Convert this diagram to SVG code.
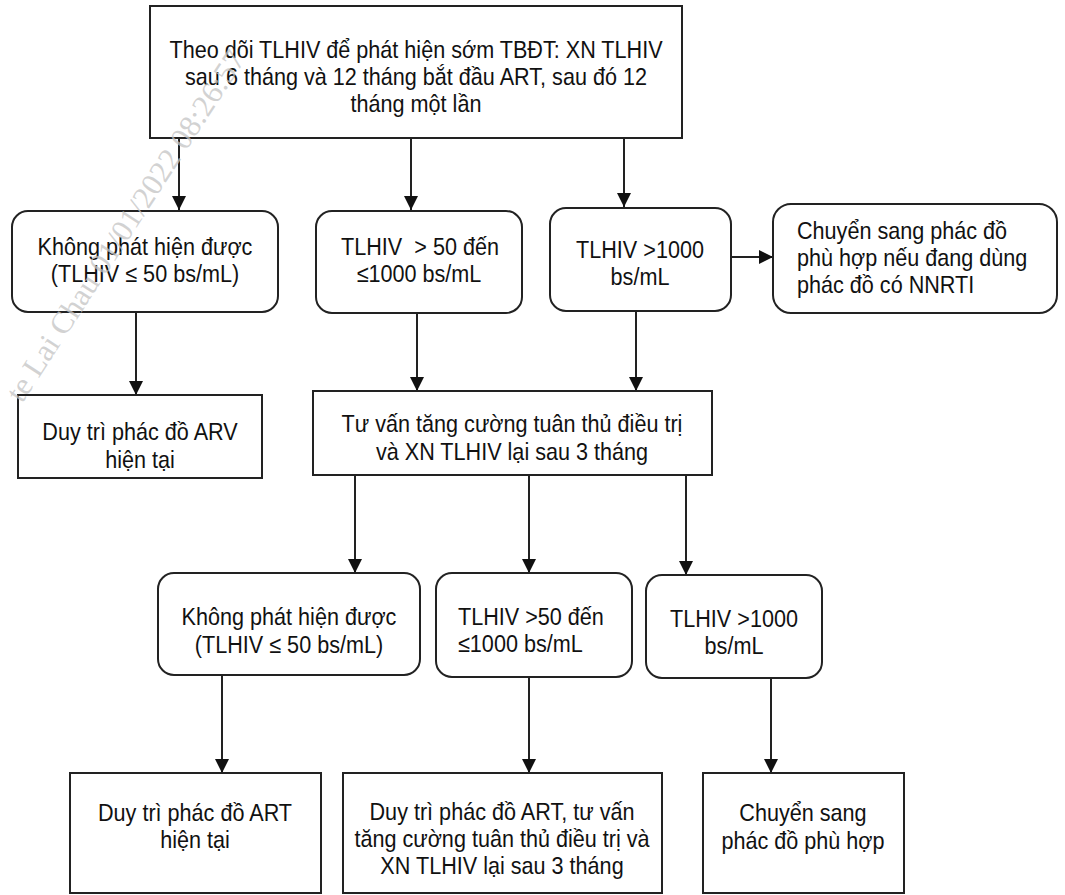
<svg xmlns="http://www.w3.org/2000/svg" width="1065" height="895" viewBox="0 0 1065 895">
<defs>
<style>
.box{fill:#fff;stroke:#222;stroke-width:2}
.t{font-family:"Liberation Sans",Arial,sans-serif;font-size:24px;fill:#111;text-anchor:middle}
.l{text-anchor:start}
.c line{stroke:#222;stroke-width:2;marker-end:url(#ah)}
.wm{font-family:"Liberation Serif","Times New Roman",serif;font-size:31px;fill:#c4c4c4;fill-opacity:0.75}
</style>
<marker id="ah" markerUnits="userSpaceOnUse" markerWidth="14" markerHeight="14" refX="14" refY="7" orient="auto">
<path d="M0,0 L14,7 L0,14 z" fill="#111"/>
</marker>
</defs>
<rect width="1065" height="895" fill="#fff"/>

<g id="connectors" class="c">
<line x1="179" y1="138" x2="179" y2="210"/>
<line x1="411" y1="138" x2="411" y2="210"/>
<line x1="624" y1="138" x2="624" y2="207"/>
<line x1="731" y1="257" x2="773" y2="257"/>
<line x1="136" y1="312" x2="136" y2="395"/>
<line x1="417" y1="313" x2="417" y2="391"/>
<line x1="636" y1="311" x2="636" y2="391"/>
<line x1="355" y1="475" x2="355" y2="573"/>
<line x1="529" y1="475" x2="529" y2="573"/>
<line x1="686" y1="475" x2="686" y2="575"/>
<line x1="222" y1="675" x2="222" y2="773"/>
<line x1="529" y1="677" x2="529" y2="773"/>
<line x1="771" y1="678" x2="771" y2="773"/>
</g>

<g id="n-top">
<rect class="box" x="150" y="6" width="532" height="132"/>
<text class="t" transform="translate(416,58) scale(0.9,1)">Theo dõi TLHIV để phát hiện sớm TBĐT: XN TLHIV</text>
<text class="t" transform="translate(416,85) scale(0.9,1)">sau 6 tháng và 12 tháng bắt đầu ART, sau đó 12</text>
<text class="t" transform="translate(416,112) scale(0.9,1)">tháng một lần</text>
</g>

<g id="n-a">
<rect class="box" x="12" y="211" width="266" height="101" rx="16"/>
<text class="t" transform="translate(145,255) scale(0.9,1)">Không phát hiện được</text>
<text class="t" transform="translate(145,282) scale(0.9,1)">(TLHIV ≤ 50 bs/mL)</text>
</g>

<g id="n-b">
<rect class="box" x="316" y="211" width="206" height="102" rx="16"/>
<text class="t" style="white-space:pre" transform="translate(420,255) scale(0.9,1)">TLHIV  &gt; 50 đến</text>
<text class="t" transform="translate(419,282) scale(0.9,1)">≤1000 bs/mL</text>
</g>

<g id="n-c">
<rect class="box" x="550" y="208" width="181" height="103" rx="16"/>
<text class="t" transform="translate(640,258) scale(0.9,1)">TLHIV &gt;1000</text>
<text class="t" transform="translate(640,285) scale(0.9,1)">bs/mL</text>
</g>

<g id="n-d">
<rect class="box" x="773" y="204" width="284" height="109" rx="18"/>
<text class="t l" transform="translate(797,239) scale(0.9,1)">Chuyển sang phác đồ</text>
<text class="t l" transform="translate(797,266) scale(0.9,1)">phù hợp nếu đang dùng</text>
<text class="t l" transform="translate(797,293) scale(0.9,1)">phác đồ có NNRTI</text>
</g>

<g id="n-e">
<rect class="box" x="18" y="395" width="244" height="83"/>
<text class="t" transform="translate(140,440) scale(0.9,1)">Duy trì phác đồ ARV</text>
<text class="t" transform="translate(140,468) scale(0.9,1)">hiện tại</text>
</g>

<g id="n-f">
<rect class="box" x="313" y="391" width="399" height="84"/>
<text class="t" transform="translate(512,432) scale(0.9,1)">Tư vấn tăng cường tuân thủ điều trị</text>
<text class="t" transform="translate(512,460) scale(0.9,1)">và XN TLHIV lại sau 3 tháng</text>
</g>

<g id="n-g">
<rect class="box" x="158" y="573" width="262" height="102" rx="16"/>
<text class="t" transform="translate(289,625) scale(0.9,1)">Không phát hiện được</text>
<text class="t" transform="translate(289,653) scale(0.9,1)">(TLHIV ≤ 50 bs/mL)</text>
</g>

<g id="n-h">
<rect class="box" x="436" y="573" width="196" height="104" rx="16"/>
<text class="t l" transform="translate(458,625) scale(0.9,1)">TLHIV &gt;50 đến</text>
<text class="t l" transform="translate(458,652) scale(0.9,1)">≤1000 bs/mL</text>
</g>

<g id="n-i">
<rect class="box" x="646" y="575" width="176" height="103" rx="16"/>
<text class="t" transform="translate(734,627) scale(0.9,1)">TLHIV &gt;1000</text>
<text class="t" transform="translate(734,654) scale(0.9,1)">bs/mL</text>
</g>

<g id="n-j">
<rect class="box" x="70" y="773" width="251" height="120"/>
<text class="t" transform="translate(195,821) scale(0.9,1)">Duy trì phác đồ ART</text>
<text class="t" transform="translate(195,848) scale(0.9,1)">hiện tại</text>
</g>

<g id="n-k">
<rect class="box" x="343" y="773" width="319" height="120"/>
<text class="t" transform="translate(502,820) scale(0.9,1)">Duy trì phác đồ ART, tư vấn</text>
<text class="t" transform="translate(502,847) scale(0.9,1)">tăng cường tuân thủ điều trị và</text>
<text class="t" transform="translate(502,874) scale(0.9,1)">XN TLHIV lại sau 3 tháng</text>
</g>

<g id="n-l">
<rect class="box" x="703" y="773" width="201" height="120"/>
<text class="t" transform="translate(803,821) scale(0.9,1)">Chuyển sang</text>
<text class="t" transform="translate(803,849) scale(0.9,1)">phác đồ phù hợp</text>
</g>

<text class="wm" transform="translate(22,404) rotate(-57)">te Lai Chau 01/01/2022 08:26:57</text>
</svg>
